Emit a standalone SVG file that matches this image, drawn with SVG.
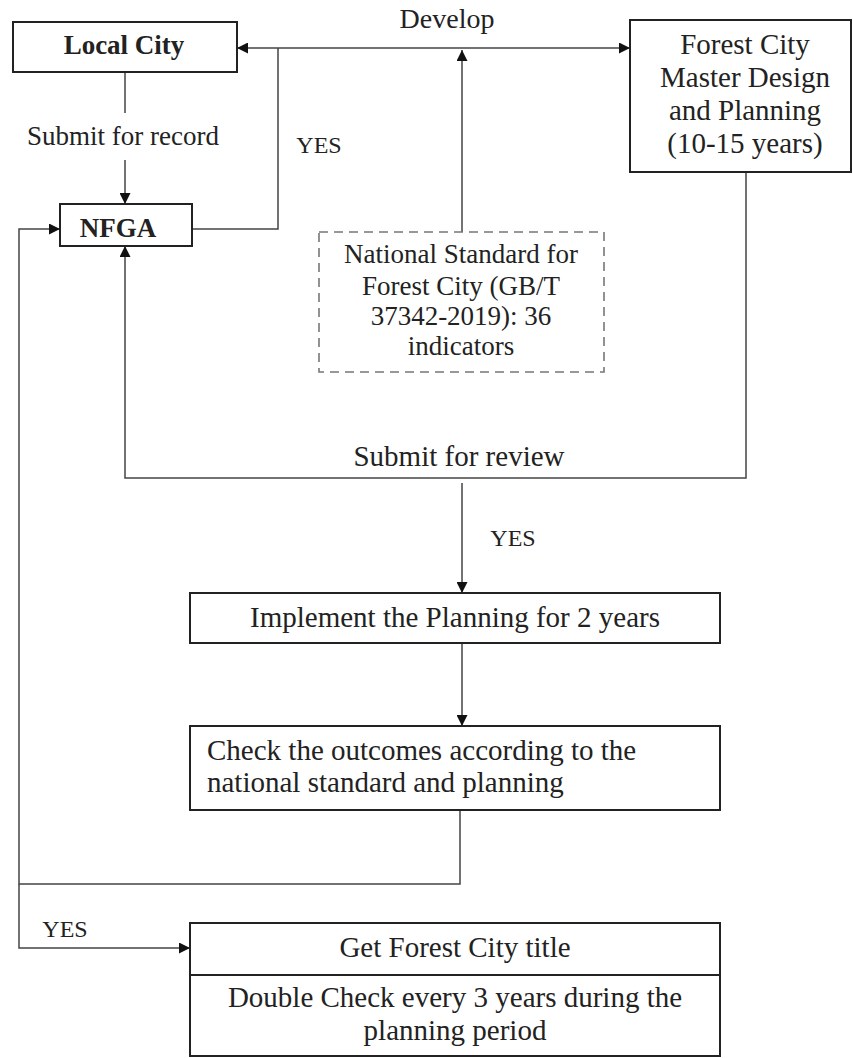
<svg xmlns="http://www.w3.org/2000/svg" width="853" height="1058" viewBox="0 0 853 1058">
<style>
.box{fill:#fff;stroke:#222;stroke-width:2}
.dash{fill:#fff;stroke:#777;stroke-width:1.6;stroke-dasharray:9,6}
.ln{fill:none;stroke:#444;stroke-width:1.5}
.t{font-family:"Liberation Serif","Times New Roman",serif;font-size:29px;fill:#222;text-anchor:middle}
.tl{text-anchor:start}
.b{font-weight:bold;font-size:27px}
.s{font-size:27px}
.y{font-size:24px}
</style>
<defs>
<marker id="ah" viewBox="0 0 10 10" refX="10" refY="5" markerWidth="11" markerHeight="11" markerUnits="userSpaceOnUse" orient="auto">
<path d="M0,0 L10,5 L0,10 z" fill="#111"/>
</marker>
</defs>
<rect width="853" height="1058" fill="#fff"/>
<g id="connectors">
<path class="ln" d="M278,48 H237" marker-end="url(#ah)"/>
<path class="ln" d="M278,48 H630" marker-end="url(#ah)"/>
<path class="ln" d="M278,48 V229 H192"/>
<path class="ln" d="M462,232 V50" marker-end="url(#ah)"/>
<path class="ln" d="M125,72 V204" marker-end="url(#ah)"/>
<path class="ln" d="M746,172 V478 H125 V246" marker-end="url(#ah)"/>
<path class="ln" d="M462,483 V593" marker-end="url(#ah)"/>
<path class="ln" d="M462,643 V726" marker-end="url(#ah)"/>
<path class="ln" d="M460,810 V884 H19 V229 H60" marker-end="url(#ah)"/>
<path class="ln" d="M19,884 V948 H190" marker-end="url(#ah)"/>
<rect x="7" y="113" width="235" height="47" fill="#fff"/>
<text class="t s" x="123" y="145">Submit for record</text>
<text class="t" x="447" y="28" style="font-size:28px">Develop</text>
<text class="t y" x="319" y="153">YES</text>
<text class="t" x="459" y="466">Submit for review</text>
<text class="t y" x="513" y="546">YES</text>
<text class="t y" x="65" y="937">YES</text>
</g>
<g id="local-city">
<rect class="box" x="13" y="22" width="224" height="50"/>
<text class="t b" x="124" y="54">Local City</text>
</g>
<g id="nfga">
<rect class="box" x="60" y="204" width="132" height="42"/>
<text class="t b" x="118" y="237">NFGA</text>
</g>
<g id="forest-city-plan">
<rect class="box" x="630" y="20" width="221" height="152"/>
<text class="t" x="745" y="54">Forest City</text>
<text class="t" x="745" y="87">Master Design</text>
<text class="t" x="745" y="120">and Planning</text>
<text class="t" x="745" y="153">(10-15 years)</text>
</g>
<g id="national-standard">
<rect class="dash" x="319" y="232" width="285" height="140"/>
<text class="t s" x="461" y="263">National Standard for</text>
<text class="t s" x="461" y="295">Forest City (GB/T</text>
<text class="t s" x="461" y="325">37342-2019): 36</text>
<text class="t s" x="461" y="355">indicators</text>
</g>
<g id="implement">
<rect class="box" x="190" y="593" width="530" height="50"/>
<text class="t" x="455" y="627">Implement the Planning for 2 years</text>
</g>
<g id="check">
<rect class="box" x="190" y="726" width="530" height="84"/>
<text class="t tl" x="207" y="760">Check the outcomes according to the</text>
<text class="t tl" x="207" y="792">national standard and planning</text>
</g>
<g id="title">
<rect class="box" x="190" y="923" width="530" height="133"/>
<line x1="190" y1="975" x2="720" y2="975" stroke="#222" stroke-width="2"/>
<text class="t" x="455" y="957">Get Forest City title</text>
<text class="t" x="455" y="1007">Double Check every 3 years during the</text>
<text class="t" x="455" y="1040">planning period</text>
</g>
</svg>
